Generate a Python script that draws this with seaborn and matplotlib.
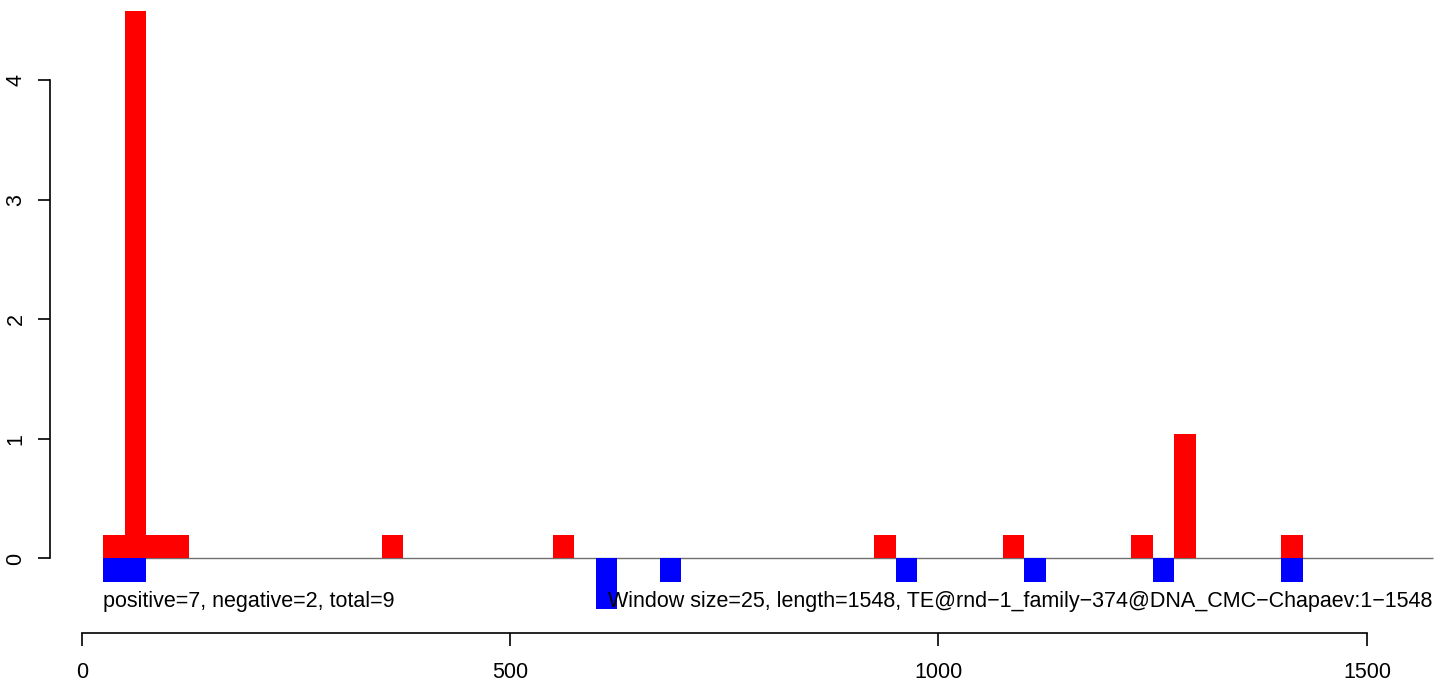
import numpy as np
import pandas as pd
import matplotlib
matplotlib.use("Agg")
import matplotlib.pyplot as plt
import seaborn as sns

# Window data (window start positions, window size 25)
window = 25
pos_starts = [25, 50, 75, 100, 350, 550, 925, 1075, 1225, 1275, 1400]
pos_values = [0.2, 4.58, 0.2, 0.2, 0.2, 0.2, 0.2, 0.2, 0.2, 1.04, 0.2]
neg_starts = [25, 50, 600, 675, 950, 1100, 1250, 1400]
neg_values = [-0.2, -0.2, -0.42, -0.2, -0.2, -0.2, -0.2, -0.2]
baseline_range = [25, 1577]

left_label = "positive=7, negative=2, total=9"
right_label = "Window size=25, length=1548, TE@rnd\u22121_family\u2212374@DNA_CMC\u2212Chapaev:1\u22121548"
x_ticks = [0, 500, 1000, 1500]
y_ticks = [0, 1, 2, 3, 4]

pos_df = pd.DataFrame({"x": np.array(pos_starts) + window / 2, "y": pos_values})
neg_df = pd.DataFrame({"x": np.array(neg_starts) + window / 2, "y": neg_values})

sns.set_style("ticks")
plt.rcParams["font.family"] = ["Liberation Sans", "DejaVu Sans"]
plt.rcParams["text.color"] = "black"

W, H = 1444, 683
fig = plt.figure(figsize=(W / 100, H / 100), dpi=100)
ax = fig.add_axes([50 / W, (H - 632.5) / H, (W - 50) / W, 632.5 / H])

ax.hlines(0, baseline_range[0], baseline_range[1], color="#707070", linewidth=1.0, zorder=1)
sns.barplot(data=pos_df, x="x", y="y", native_scale=True, width=1, color="#ff0000",
            saturation=1, errorbar=None, linewidth=0, ax=ax, zorder=2)
sns.barplot(data=neg_df, x="x", y="y", native_scale=True, width=1, color="#0000ff",
            saturation=1, errorbar=None, linewidth=0, ax=ax, zorder=2)

ax.set_xlim(-37, 1590)
ax.set_ylim(-0.619, 4.67)
ax.set_xticks(x_ticks)
ax.set_yticks(y_ticks)
ax.set_xticklabels([str(v) for v in x_ticks])
ax.set_yticklabels([str(v) for v in y_ticks])
ax.set_xlabel("")
ax.set_ylabel("")

for s in ["top", "right"]:
    ax.spines[s].set_visible(False)
ax.spines["bottom"].set_bounds(0, 1500)
ax.spines["left"].set_bounds(0, 4)
for s in ["bottom", "left"]:
    ax.spines[s].set_linewidth(1.2)
    ax.spines[s].set_color("black")
ax.tick_params(axis="both", direction="out", length=9, width=1.2, colors="black",
               labelsize=15.5)
ax.tick_params(axis="x", pad=12)
ax.tick_params(axis="y", labelrotation=90, pad=8)
for lab in ax.get_yticklabels():
    lab.set_va("center")

ax.text(25, -0.36, left_label, ha="left", va="center", fontsize=15.5, color="black")
ax.text(baseline_range[1], -0.36, right_label, ha="right", va="center", fontsize=15.5,
        color="black")

fig.savefig("out.png", dpi=100)
